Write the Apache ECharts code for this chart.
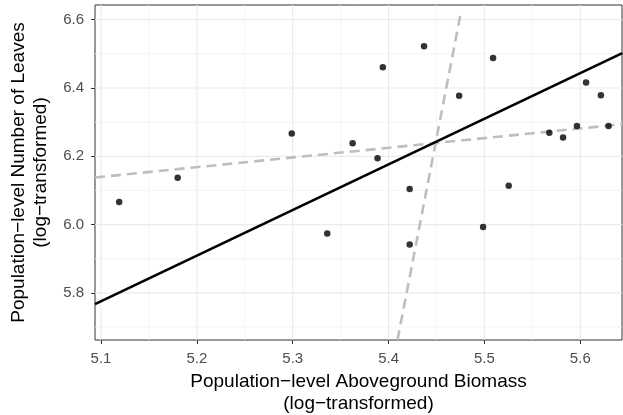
<!DOCTYPE html>
<html>
<head>
<meta charset="utf-8">
<script src="https://cdn.jsdelivr.net/npm/echarts@6/dist/echarts.min.js"></script>
<style>
  html, body { margin: 0; padding: 0; background: #fff; }
  #main { width: 623px; height: 415px; }
</style>
</head>
<body>
<div id="main"></div>
<script>
// biomass (x) and leaves (y), log-transformed
var biomass = [5.119, 5.180, 5.299, 5.336, 5.3625, 5.3885, 5.394, 5.422, 5.422, 5.437,
               5.4736, 5.4986, 5.509, 5.5253, 5.5677, 5.582, 5.5965, 5.606, 5.6215, 5.6295];
var leaves  = [6.066, 6.137, 6.267, 5.974, 6.238, 6.194, 6.461, 6.104, 5.942, 6.522,
               6.377, 5.993, 6.488, 6.114, 6.269, 6.255, 6.289, 6.416, 6.379, 6.289];

// fitted lines, end points
var fitLine   = [[5.09375, 5.767], [5.6438, 6.502]];
var yOnXLine  = [[5.09375, 6.138], [5.6438, 6.294]];
var xOnYLine  = [[5.4093, 5.662], [5.4752, 6.618]];

var xMajor = [5.1, 5.2, 5.3, 5.4, 5.5, 5.6];
var xMinor = [5.15, 5.25, 5.35, 5.45, 5.55];
var yMajor = [5.8, 6.0, 6.2, 6.4, 6.6];
var yMinor = [5.7, 5.9, 6.1, 6.3, 6.5];

var xMin = 5.09375, xMax = 5.6435;
var yMin = 5.662, yMax = 6.643;

var myChart = echarts.init(document.getElementById('main'));

// panel grid lines (theme_bw look)
var gridSeries = [];
function vLine(v, color, w) {
  gridSeries.push({ type: 'line', data: [[v, yMin], [v, yMax]], symbol: 'none', silent: true, z: 1,
    lineStyle: { color: color, width: w } });
}
function hLine(v, color, w) {
  gridSeries.push({ type: 'line', data: [[xMin, v], [xMax, v]], symbol: 'none', silent: true, z: 1,
    lineStyle: { color: color, width: w } });
}
xMinor.forEach(function (v) { vLine(v, '#f3f3f3', 0.8); });
yMinor.forEach(function (v) { hLine(v, '#f3f3f3', 0.8); });
xMajor.forEach(function (v) { vLine(v, '#ebebeb', 1.2); });
yMajor.forEach(function (v) { hLine(v, '#ebebeb', 1.2); });

var font = 'Liberation Sans, Arial, sans-serif';

var option = {
  animation: false,
  backgroundColor: '#fff',
  grid: {
    left: 95, right: 1, top: 5, bottom: 75,
    outerBoundsMode: 'none',
    containLabel: false,
    show: true, borderColor: '#333', borderWidth: 1, backgroundColor: '#fff'
  },
  xAxis: {
    type: 'value',
    min: xMin, max: xMax,
    name: 'Population\u2212level Aboveground Biomass\n(log\u2212transformed)',
    nameLocation: 'middle',
    nameGap: 31,
    nameTextStyle: { fontFamily: font, fontSize: 19, color: '#000', lineHeight: 22 },
    axisLine: { show: false },
    axisTick: { show: true, length: 4, customValues: xMajor, lineStyle: { color: '#333' } },
    axisLabel: { customValues: xMajor, fontFamily: font, fontSize: 15, color: '#4d4d4d', margin: 11 },
    splitLine: { show: false }
  },
  yAxis: {
    type: 'value',
    min: yMin, max: yMax,
    name: 'Population\u2212level Number of Leaves\n(log\u2212transformed)',
    nameLocation: 'middle',
    nameGap: 43,
    nameTextStyle: { fontFamily: font, fontSize: 19, color: '#000', lineHeight: 22 },
    axisLine: { show: false },
    axisTick: { show: true, length: 4, customValues: yMajor, lineStyle: { color: '#333' } },
    axisLabel: {
      customValues: yMajor, fontFamily: font, fontSize: 15, color: '#4d4d4d', margin: 11,
      formatter: function (v) { return v.toFixed(1); }
    },
    splitLine: { show: false }
  },
  series: gridSeries.concat([
    {
      type: 'line', data: yOnXLine, symbol: 'none', z: 2,
      lineStyle: { color: '#bebebe', width: 2.6, type: [10, 6] }
    },
    {
      type: 'line', data: xOnYLine, symbol: 'none', z: 2,
      lineStyle: { color: '#bebebe', width: 2.6, type: [10, 6] }
    },
    {
      type: 'line', data: fitLine, symbol: 'none', z: 3,
      lineStyle: { color: '#000', width: 2.7 }
    },
    {
      type: 'scatter', z: 4,
      data: biomass.map(function (x, i) { return [x, leaves[i]]; }),
      symbolSize: 6.5,
      itemStyle: { color: '#000' }
    }
  ])
};

myChart.setOption(option);
</script>
</body>
</html>
